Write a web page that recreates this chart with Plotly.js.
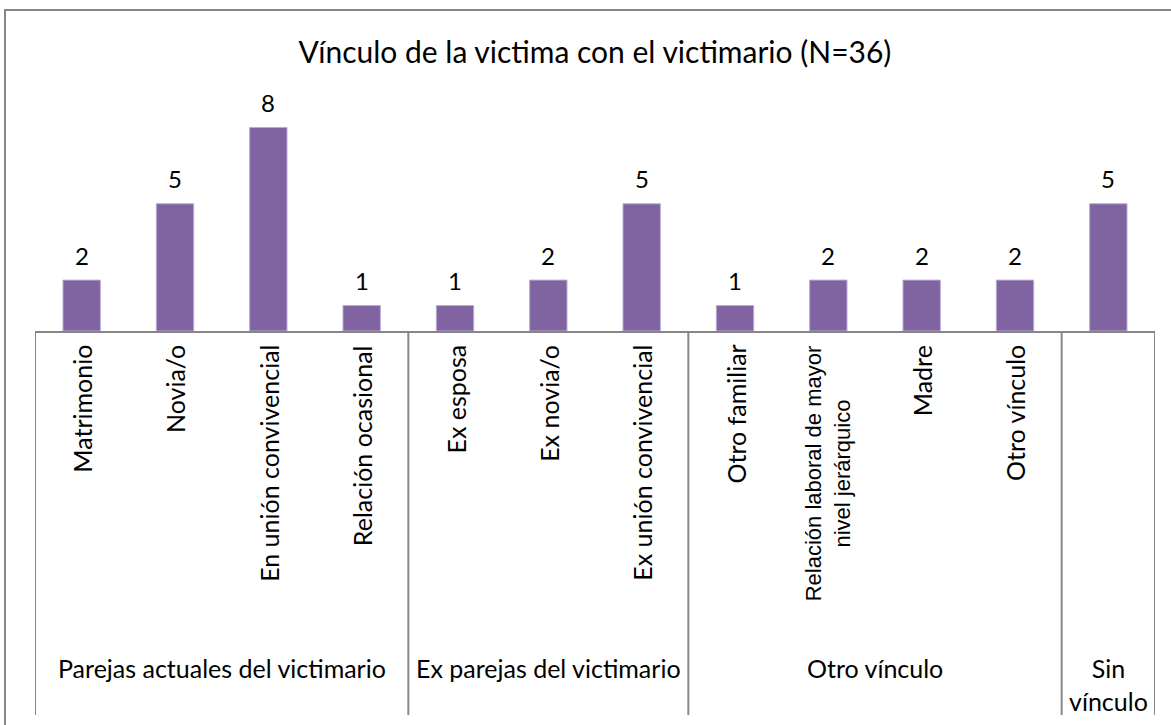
<!DOCTYPE html>
<html>
<head>
<meta charset="utf-8">
<script src="https://cdn.plot.ly/plotly-3.0.1.min.js"></script>
<style>html,body{margin:0;padding:0;background:#fff;}#chart{width:1171px;height:725px;}</style>
</head>
<body>
<div id="chart"></div>
<script>
// ---- data ----
const categories = ["Matrimonio", "Novia/o", "En unión convivencial", "Relación ocasional",
  "Ex esposa", "Ex novia/o", "Ex unión convivencial",
  "Otro familiar", "Relación laboral de mayor<br>nivel jerárquico", "Madre", "Otro vínculo",
  ""];
const values = [2, 5, 8, 1, 1, 2, 5, 1, 2, 2, 2, 5];
const groups = ["Parejas actuales del victimario", "Ex parejas del victimario", "Otro vínculo", "Sin<br>vínculo"];
const groupSizes = [4, 3, 4, 1];
const titleText = "Vínculo de la victima con el victimario (N=36)";

// ---- styles ----
const FONT = "Lato, 'Open Sans', sans-serif";
const GRAY = "#868686";
const BAR = "#8064A2";
const PLOT_H = 229;            // px height of plot area
const AXIS_BOTTOM_PX = 384;    // how far separators go below axis (px)
const toPaper = px => -px / PLOT_H;

const xs = categories.map((_, i) => i);

const annotations = [];
// value labels
values.forEach((v, i) => {
  annotations.push({x: xs[i], y: v, xref: "x", yref: "y", text: String(v), showarrow: false,
    yanchor: "middle", yshift: 25, font: {family: FONT, size: 24, color: "#000"}});
});
// category labels (rotated)
categories.forEach((c, i) => {
  if (!c) return;
  const isArial = c.indexOf("<br>") >= 0;
  annotations.push({x: xs[i], y: 0, xref: "x", yref: "paper", text: c, showarrow: false,
    textangle: -90, yanchor: "top", xanchor: "center", yshift: -12, align: "center",
    font: {family: isArial ? "Liberation Sans, Arial, sans-serif" : FONT, size: isArial ? 22 : 25, color: "#000"}});
});
// group labels + separators
const shapes = [];
let start = -0.5;
shapes.push({type: "line", xref: "x", yref: "paper", x0: start, x1: start, y0: 0, y1: toPaper(AXIS_BOTTOM_PX),
  line: {color: GRAY, width: 2}});
groups.forEach((g, k) => {
  const end = start + groupSizes[k];
  annotations.push({x: (start + end) / 2, y: 0, xref: "x", yref: "paper", text: g, showarrow: false,
    yanchor: "top", xanchor: "center", yshift: -320, align: "center",
    font: {family: FONT, size: 25, color: "#000"}});
  shapes.push({type: "line", xref: "x", yref: "paper", x0: end, x1: end, y0: 0, y1: toPaper(AXIS_BOTTOM_PX),
    line: {color: GRAY, width: 2}});
  start = end;
});
// outer chart border (top & left visible)
shapes.push({type: "rect", xref: "paper", yref: "paper", x0: -30 / 1120, x1: 1.03, y0: -2.0, y1: (331 - 10) / PLOT_H,
  line: {color: GRAY, width: 2}, fillcolor: "rgba(0,0,0,0)"});

const trace = {
  type: "bar", x: xs, y: values, width: 0.4,
  marker: {color: BAR, line: {color: "#b9a9cf", width: 1}},
  hoverinfo: "skip"
};

const layout = {
  width: 1171, height: 725,
  margin: {l: 35, r: 16, t: 102, b: 394, pad: 0},
  paper_bgcolor: "#fff", plot_bgcolor: "#fff",
  showlegend: false,
  title: {text: titleText, font: {family: FONT, size: 30, color: "#000"},
    xref: "container", yref: "container", x: 595 / 1171, y: 1 - 52 / 725, xanchor: "center", yanchor: "middle"},
  xaxis: {range: [-0.5, xs.length - 0.5], showgrid: false, zeroline: false, showticklabels: false,
    ticks: "", showline: true, linecolor: GRAY, linewidth: 2, fixedrange: true},
  yaxis: {range: [0, 9], visible: false, showgrid: false, zeroline: false, fixedrange: true},
  annotations: annotations,
  shapes: shapes
};

Plotly.newPlot("chart", [trace], layout, {displayModeBar: false, staticPlot: true});
</script>
</body>
</html>
